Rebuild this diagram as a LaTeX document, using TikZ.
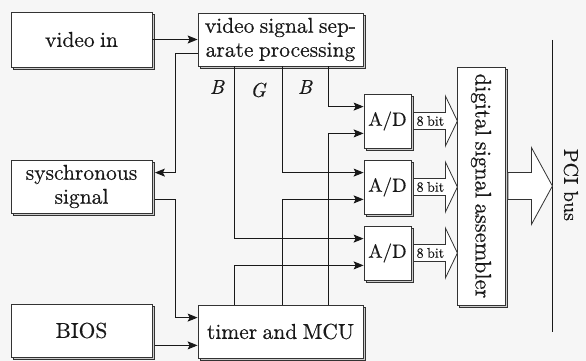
\documentclass[tikz,border=0pt]{standalone}
\usepackage{fontspec}
\setmainfont{lmroman10-regular.otf}[ItalicFont=lmroman10-italic.otf, WordSpace=0.75, FakeBold=0.4]
\usetikzlibrary{arrows.meta,calc,shadows}
\begin{document}
\begin{tikzpicture}[x=1pt,y=-1pt,
  box/.style={draw=black!80, line width=0.8pt, fill=white, text=black!90,
    copy shadow={shadow xshift=2.5pt, shadow yshift=-2.5pt, draw=black!80, fill=gray!40, line width=0.6pt},
    align=center, inner sep=0pt, font=\fontsize{21.5}{24}\selectfont},
  conn/.style={draw=black!90, line width=0.95pt},
  arr/.style={conn, -{Stealth[length=10pt,width=8pt,inset=2pt]}},
  fat/.style={draw=black!80, line width=0.8pt, fill=white, line join=miter},
  lbl/.style={text=black!90, inner sep=0pt, font=\fontsize{20}{22}\selectfont\itshape},
  small/.style={text=black!90, inner sep=0pt, font=\fontsize{14}{16}\selectfont}
]
\fill[gray!7] (0,0) rectangle (586,361);
\useasboundingbox (0,0) rectangle (586,361);

% boxes
\node[box, minimum width=141, minimum height=55] (vin) at (81.5,39.5) {video in};
\node[box, minimum width=165, minimum height=53] (vsep) at (280.5,39.5) {video signal sep-\\arate processing};
\node[box, minimum width=141, minimum height=53] (sync) at (81.5,186.5) {syschronous\\signal};
\node[box, minimum width=141, minimum height=53] (bios) at (81.5,330.5) {BIOS};
\node[box, minimum width=165, minimum height=53] (timer) at (280.5,331.5) {timer and MCU};
\node[box, minimum width=47, minimum height=54, font=\fontsize{19}{22}\selectfont] (ad1) at (387.5,121) {A/D};
\node[box, minimum width=47, minimum height=54, font=\fontsize{19}{22}\selectfont] (ad2) at (387.5,187) {A/D};
\node[box, minimum width=47, minimum height=54, font=\fontsize{19}{22}\selectfont] (ad3) at (387.5,253) {A/D};
\node[box, minimum width=48, minimum height=238] (dsa) at (481,186) {};
\node[rotate=-90, text=black!90, inner sep=0pt, font=\fontsize{22.5}{24}\selectfont] (dsat) at (dsa.center) {digital signal assembler};

% PCI bus
\coordinate (pcitop) at (552,40);
\coordinate (pcibot) at (552,332);
\draw[conn] (pcitop) -- (pcibot);
\node[rotate=-90, text=black!90, inner sep=0pt, font=\fontsize{20}{22}\selectfont] (pci) at (571,185) {PCI\hspace{0.33em}bus};

% fat arrows
\foreach \i in {1,2,3}{
  \draw[fat] ($(ad\i.east)+(2,-8.5)$) -- ($(ad\i.east)+(34,-8.5)$) -- ($(ad\i.east)+(34,-25)$)
    -- ($(ad\i.east)+(46,0)$) -- ($(ad\i.east)+(34,25)$) -- ($(ad\i.east)+(34,8.5)$)
    -- ($(ad\i.east)+(2,8.5)$) -- cycle;
  \node[small] (bit\i) at ($(ad\i.east)+(19,0)$) {8 bit};
}
\draw[fat] ($(dsa.east)+(2.5,-13.5)$) -- ($(dsa.east)+(26,-13.5)$) -- ($(dsa.east)+(26,-38.5)$)
  -- ($(dsa.east)+(47,0)$) -- ($(dsa.east)+(26,38.5)$) -- ($(dsa.east)+(26,13.5)$)
  -- ($(dsa.east)+(2.5,13.5)$) -- cycle;

% connectors on the left
\coordinate (jx) at (175,0);
\draw[arr] (vin.east) -- (vin.east -| vsep.west);
\path (vsep.south west) ++(0,-13) coordinate (v2);
\path (sync.north east) ++(2.5,13) coordinate (s1);
\draw[arr] (v2) -- (v2 -| jx) -- (jx |- s1) -- (s1);
\path (sync.south east) ++(2.5,-14) coordinate (s2);
\path (timer.north west) ++(0,13) coordinate (t1);
\draw[arr] (s2) -- (s2 -| jx) -- (jx |- t1) -- (t1);
\path (timer.south west) ++(0,-13) coordinate (t2);
\path (bios.east |- t2) ++(2.5,0) coordinate (b1);
\draw[arr] (b1) -- (t2);

% A/D inputs
\coordinate (c1) at (234,0);
\coordinate (c2) at (282,0);
\coordinate (c3) at (328,0);
\foreach \i in {1,2,3}{
  \path (ad\i.north west) ++(0,13) coordinate (a\i i);
  \path (ad\i.south west) ++(0,-15) coordinate (a\i j);
}
\draw[arr] (vsep.south -| c3) -- (c3 |- a1i) -- (a1i);
\draw[arr] (vsep.south -| c2) -- (c2 |- a2i) -- (a2i);
\draw[arr] (vsep.south -| c1) -- (c1 |- a3i) -- (a3i);
\draw[arr] (timer.north -| c3) -- (c3 |- a1j) -- (a1j);
\draw[arr] (timer.north -| c2) -- (c2 |- a2j) -- (a2j);
\draw[arr] (timer.north -| c1) -- (c1 |- a3j) -- (a3j);

% labels
\node[lbl] (lb1) at (217,87) {B};
\node[lbl] (lg) at (258,90) {G};
\node[lbl] (lb2) at (305,87) {B};
\end{tikzpicture}
\end{document}
